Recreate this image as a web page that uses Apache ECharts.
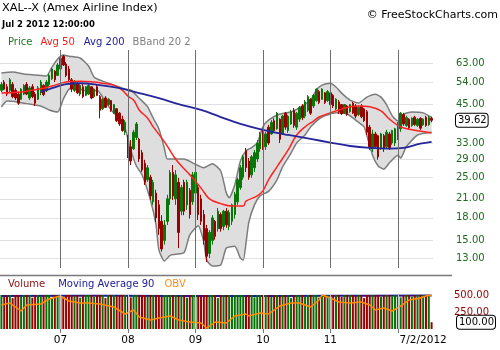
<!DOCTYPE html>
<html><head><meta charset="utf-8">
<script src="https://cdn.jsdelivr.net/npm/echarts@6/dist/echarts.min.js"></script>
<style>html,body{margin:0;padding:0;background:#fff}#c{width:500px;height:350px}</style>
</head><body><div id="c"></div>
<script>
// ---- data (semi-monthly bars, mid-Feb 2006 .. Jul 2 2012) ----
const openP = [50.5,54,52,50.5,53,50.5,49,47,49,53, 47.5,52,49,47,50,52.5,50.5,53,55.5,59,
 57,60,66.5,62.5,60,55,50.5,53.5,49,52, 48.5,49,52,48,52,48,43.5,47.5,45,46.5,
 42,43.5,42,40,36,35,32,31.5,34.5,34, 30.5,28,24.5,25,20.5,22,20,17.5,15,17.5,
 21,26,21,24,19,24,20,22.5,20.5,22, 23,21,18.5,16.5,13.5,15,17.5,16.5,18.5,16.8,
 19,16.8,17.5,18.5,20.5,23,25,31,28.5,25.5, 27,29,31.5,35.5,32,37.5,35.5,39.5,37,40,
 35.5,42,36.5,38.5,43,37.5,40,44.5,41,43, 47,44.5,46.5,50,47,49.5,46.5,49.5,48.5,43.5,
 46,45,42,44.5,42.5,45.5,44.5,41.5,44.5,43.5, 42.5,37.5,31.5,35.5,35,31.5,35,32,35.5,33,
 33,34.5,37,41.5,38,40,38,40.6,38,40.3, 38.2,40.6,38.3,40.3];
const closeP = [53,51,49,55,48,47.5,45.5,51,52.5,49, 51.5,48,45.5,51.5,54,48.8,54,57,60,55,
 62,65.5,62,57,55,51,54,49.5,52.5,48, 52,52.5,47.5,51,48.5,43,47,44,47,43,
 45,39.5,38.5,36.5,39,30,28.5,36,38.5,29, 26.5,24,27,21.5,24,18,16.5,14,17,21,
 26,21.5,25.5,16,23,19,24,18.5,25.5,26, 18.5,17.5,15,13.2,16,18,15.5,19,16.5,19,
 17,18.8,20,21.8,24.5,27,29.5,27,25,29.5, 30.5,33,35.5,31.5,35.5,33,39,36.5,42,34,
 41,37.5,41,42.5,38,42,44,40.5,46,48, 42,48.5,51,45.8,51,45.8,50,45,44.5,47,
 42.5,41.8,45,41.5,45,42,41,44,40.8,39.5, 36,32,35.5,32,29.5,35.5,31.5,36,31.8,36.5,
 37,38.5,42,38.5,40.5,37.3,40.3,38.3,40,37.2, 40,38,40.5,39.62];
const lowP = [49.8,50.6,48.2,49.8,47.4,46.7,44.9,46.7,48.6,48.6, 46.7,47.4,44.5,46.7,48.6,48.2,49.8,52.3,54.9,54.0,
 56.7,59.5,61.5,56.2,54.0,49.8,49.8,49.0,48.2,47.4, 48.2,48.6,47.0,47.4,48.2,40.3,43.1,43.8,44.5,42.4,
 41.7,39.1,37.9,36.1,35.2,29.2,27.6,31.2,33.8,28.3, 26.1,23.5,24.1,20.8,20.0,17.4,15.7,13.7,14.5,17.0,
 20.0,20.8,20.0,14.1,18.4,18.4,19.2,17.9,20.0,20.8, 17.7,17.0,14.5,12.6,13.0,14.5,15.1,16.1,16.1,16.3,
 16.6,16.3,17.0,17.9,20.0,22.6,24.5,26.1,24.5,24.9, 26.1,28.3,30.7,31.2,31.2,32.5,35.2,35.8,36.7,33.0,
 35.2,36.7,35.8,38.2,37.3,36.7,39.1,39.7,40.3,42.4, 41.4,43.8,46.0,45.2,46.7,45.2,46.0,44.5,43.8,43.1,
 41.7,41.4,41.7,41.1,42.1,41.7,40.3,41.1,40.3,39.1, 35.2,31.2,30.7,31.7,28.8,31.2,30.7,31.7,31.2,32.5,
 32.2,33.8,36.1,37.9,37.6,36.7,37.6,37.9,37.6,36.7, 37.9,37.6,37.9,39.0];
const highP = [54.0,54.9,53.1,55.8,54.0,51.4,49.8,51.4,53.1,54.0, 52.3,53.1,49.8,52.3,54.9,53.1,54.9,57.7,60.5,59.5,
 63.0,66.0,67.2,63.5,61.5,55.8,54.9,54.0,53.1,53.1, 52.3,53.1,52.3,51.4,52.7,48.6,47.4,48.2,47.4,46.7,
 45.2,43.8,42.4,41.1,39.7,35.2,33.8,36.7,39.1,34.4, 31.2,28.8,27.6,25.5,24.5,22.6,20.8,18.4,17.7,21.7,
 26.5,27.6,26.5,24.9,23.5,24.5,24.5,22.9,26.1,26.5, 23.5,21.7,19.2,17.0,16.3,18.4,17.7,19.5,18.8,19.2,
 19.5,19.2,20.2,22.2,24.9,27.6,29.9,31.7,29.2,29.9, 31.2,33.8,36.1,36.7,36.1,38.2,39.7,40.3,42.4,40.3,
 41.4,42.4,41.4,43.1,43.8,42.4,44.5,45.2,46.7,48.6, 47.4,49.0,51.4,50.6,51.4,49.8,50.6,49.8,49.0,47.4,
 46.7,45.2,45.2,44.9,45.2,46.0,45.2,44.5,45.2,43.8, 43.1,38.2,36.7,36.1,35.2,35.8,35.5,36.7,36.1,36.7,
 37.3,39.1,42.4,42.1,41.1,40.3,40.6,41.1,40.3,40.6, 40.3,41.1,41.1,40.8];
const volume = [500,470,500,500,455,500,500,480,500,500, 500,460,500,500,475,500,500,500,450,500,
 500,500,470,500,500,500,485,500,460,500, 500,500,500,475,500,500,500,455,500,500,
 500,480,500,500,500,500,465,500,500,500, 500,500,480,500,500,500,500,470,500,500,
 500,500,500,485,500,500,460,500,500,500, 500,475,500,500,500,500,500,455,500,500,
 500,500,470,500,500,500,500,480,500,500, 465,500,500,500,500,500,470,500,500,485,
 500,500,500,455,500,500,500,500,475,500, 500,500,500,460,500,500,500,480,500,500,
 500,470,500,500,500,500,485,500,500,455, 500,500,500,500,500,470,500,500,500,480,
 500,500,465,500,500,500,475,500,500,500, 500,500,480,100];
// indicator lines: [bar index, value]
const ma50 = [[0,49.4],[7,49.8],[11,50.6],[15,51.4],[18,52.3],[23,54.0],[28,54.4],[33,54.0],[36,53.5],[40,52.7],[43,50.6],[45,48.2],[47,46.7],[49,43.1],[52,40.3],[54,37.6],[58,33.3],[61,29.9],[63,28.1],[67,25.5],[71,22.9],[74,21.0],[78,20.2],[82,19.8],[86,19.8],[87,20.6],[91,21.5],[93,22.4],[95,24.5],[98,27.2],[102,31.2],[105,35.2],[108,37.6],[111,39.4],[113,40.7],[117,42.1],[120,43.1],[124,44.2],[127,44.5],[131,44.2],[135,42.8],[138,40.0],[142,37.6],[146,36.7],[153,35.8]];
const ma200 = [[14,49.8],[18,51.4],[23,53.1],[28,53.5],[35,52.7],[42,51.4],[49,49.4],[56,47.4],[63,45.2],[71,43.1],[78,40.7],[85,38.5],[93,36.7],[102,35.2],[110,34.1],[117,33.1],[124,32.2],[131,31.7],[138,31.5],[143,31.7],[149,32.8],[153,33.3]];
const bbUpper = [[0,58.1],[4,58.6],[8,57.7],[12,57.2],[16,56.7],[18,61.0],[20,65.1],[22,67.2],[24,66.6],[28,65.6],[31,61.5],[33,56.2],[36,54.4],[40,52.7],[44,51.0],[46,50.6],[49,47.4],[52,44.2],[54,40.3],[56,37.0],[58,31.5],[59,29.0],[62,29.0],[65,29.0],[68,28.1],[72,27.0],[75,27.9],[78,26.3],[80,22.0],[81,21.2],[83,23.5],[85,28.5],[87,31.0],[89,31.8],[91,33.0],[93,37.6],[95,39.7],[99,41.7],[103,42.4],[106,43.8],[110,46.7],[112,50.6],[114,52.7],[117,53.5],[119,51.9],[121,49.4],[124,46.7],[127,45.6],[130,47.8],[133,48.9],[135,47.8],[137,44.9],[139,41.1],[141,39.4],[143,41.7],[146,42.4],[150,42.1],[153,40.6]];
const bbLower = [[0,44.1],[2,46.3],[6,45.9],[10,45.2],[14,44.5],[17,43.1],[20,42.4],[22,47.0],[24,51.0],[26,51.9],[29,50.6],[32,49.8],[34,50.6],[36,47.8],[39,43.1],[41,41.1],[44,37.0],[46,31.2],[48,27.4],[50,25.5],[53,20.8],[55,17.0],[56,13.9],[58,12.7],[60,13.3],[62,13.4],[65,13.6],[67,15.7],[70,16.9],[72,14.8],[73,12.8],[75,12.2],[78,12.3],[80,14.1],[83,14.3],[85,13.0],[86,12.8],[87,14.7],[88,17.4],[90,20.0],[92,21.5],[95,22.3],[98,24.5],[100,27.2],[103,30.4],[105,33.0],[108,35.2],[110,37.6],[114,40.7],[119,42.1],[123,41.7],[126,39.7],[129,37.6],[130,35.0],[132,29.9],[134,27.4],[136,26.7],[138,28.1],[141,29.9],[142,29.2],[144,32.0],[148,35.2],[153,36.0]];
const obv = [[0,70.6],[3,76.5],[7,52.9],[9,70.6],[14,73.5],[17,88.2],[21,97.1],[24,82.4],[28,76.5],[31,76.5],[35,73.5],[40,64.7],[44,44.1],[47,55.9],[49,35.3],[53,26.5],[56,32.4],[60,38.2],[63,26.5],[67,20.6],[71,17.6],[73,2.9],[76,20.6],[80,17.6],[83,38.2],[87,44.1],[88,38.2],[92,47.1],[95,44.1],[99,67.6],[103,76.5],[106,76.5],[110,64.7],[113,85.3],[114,100],[117,91.2],[120,79.4],[124,76.5],[128,79.4],[131,70.6],[133,55.9],[136,61.8],[139,52.9],[142,67.6],[145,85.3],[149,91.2],[152,100],[153,97]];
const ma90 = [[0,486],[40,490],[80,484],[120,488],[153,492]];
const priceTicks = [63,54,45,33,29,25,21,18,15,13];
const lastPrice = 39.62;
const volTicks = [500,250];
const lastVol = 100;
const yearIdx = [21,45,69,93,117,141];
const labelIdx = [21,45,69,93,117,150];
const labelText = ['07','08','09','10','11','7/2/2012'];

// categories: semi-monthly periods
const cats = [];
{ let y = 2006, m = 2, h = 1;
  for (let i = 0; i < openP.length; i++) {
    cats.push(y + '-' + String(m).padStart(2,'0') + (h ? 'b' : 'a'));
    if (h) { h = 0; m++; if (m > 12) { m = 1; y++; } } else { h = 1; }
  } }

const FONT = '"DejaVu Sans", Verdana, sans-serif';
const GREEN = '#0a760a', RED = '#990000';
const candles = openP.map((o, i) => [o, closeP[i], lowP[i], highP[i]]);
const volData = volume.map((v, i) => ({ value: v, itemStyle: { color: closeP[i] >= openP[i] ? '#067006' : '#990000' } }));
const rs = (color, pr) => ({ color: color, fontFamily: FONT, fontSize: 10, fontWeight: 'normal', padding: [0, pr, 0, 0] });
const boxStyle = { color: '#000', fontFamily: FONT, fontSize: 10, borderColor: '#000', borderWidth: 1,
  borderRadius: 3, padding: [2, 1, 1, 2], backgroundColor: '#fff' };

const chart = echarts.init(document.getElementById('c'));
chart.setOption({
  animation: false,
  backgroundColor: '#fff',
  title: [
    { text: 'XAL--X (Amex Airline Index)', left: 2, top: 3, padding: 0,
      textStyle: { fontFamily: FONT, fontSize: 11.3, fontWeight: 'normal', color: '#000' } },
    { text: 'Jul 2 2012 12:00:00', left: 2, top: 20, padding: 0,
      textStyle: { fontFamily: FONT, fontSize: 8.5, fontWeight: 'bold', color: '#000' } },
    { text: '{g|Price}{r|Avg 50}{b|Avg 200}{k|BBand 20 2}', left: 8, top: 37, padding: 0,
      textStyle: { fontFamily: FONT, fontSize: 10, fontWeight: 'normal', rich: {
        g: rs('#1f7a1f', 8), r: rs('#ff1a1a', 9), b: rs('#1a1a99', 8), k: rs('#808080', 0) } } },
    { text: '\u00a9 FreeStockCharts.com', right: 2, top: 10, padding: 0,
      textStyle: { fontFamily: FONT, fontSize: 11, fontWeight: 'normal', color: '#000' } },
    { text: '{r|Volume}{b|Moving Average 90}{o|OBV}', left: 8, top: 279, padding: 0,
      textStyle: { fontFamily: FONT, fontSize: 10, fontWeight: 'normal', rich: {
        r: rs('#8b1010', 13), b: rs('#1a1a99', 10), o: rs('#ff8c1a', 0) } } }
  ],
  graphic: [
    { type: 'line', shape: { x1: 0, y1: 275.5, x2: 452, y2: 275.5 }, style: { stroke: '#7a7a7a', lineWidth: 1.5 }, silent: true }
  ],
  grid: [
    { left: 0, top: 50, width: 433, height: 218 },
    { left: 0, top: 295, width: 433, height: 34 }
  ],
  xAxis: [
    { type: 'category', gridIndex: 0, data: cats, axisLine: { show: false }, axisTick: { show: false },
      axisLabel: { show: false }, splitLine: { show: false } },
    { type: 'category', gridIndex: 1, data: cats, axisLine: { show: false },
      axisTick: { show: true, alignWithLabel: true, length: 4, interval: (i) => yearIdx.indexOf(i) >= 0,
        lineStyle: { color: '#777' } },
      axisLabel: { show: true, interval: (i) => labelIdx.indexOf(i) >= 0, margin: 6,
        formatter: (v, i) => { const k = labelIdx.indexOf(i); return k >= 0 ? labelText[k] : ''; },
        fontFamily: FONT, fontSize: 10.5, color: '#000' },
      splitLine: { show: false } }
  ],
  yAxis: [
    { type: 'log', gridIndex: 0, position: 'right', min: 12, max: 70,
      axisLine: { show: false }, axisTick: { show: false, customValues: priceTicks },
      axisLabel: { customValues: priceTicks.concat([lastPrice]), margin: 23, hideOverlap: false,
        fontFamily: FONT, fontSize: 10, color: '#1e6a1e',
        formatter: (v) => Math.abs(v - lastPrice) < 0.01 ? '{box|' + lastPrice.toFixed(2) + '}' : Number(v).toFixed(2),
        rich: { box: boxStyle } },
      splitLine: { show: true, lineStyle: { color: '#e2e2e2', width: 1 } } },
    { type: 'value', gridIndex: 1, position: 'right', min: 0, max: 500,
      axisLine: { show: false }, axisTick: { show: false, customValues: volTicks },
      axisLabel: { customValues: volTicks, margin: 21, hideOverlap: false,
        fontFamily: FONT, fontSize: 10, color: '#990000',
        formatter: (v) => Number(v).toFixed(2) },
      splitLine: { show: false } },
    { type: 'value', gridIndex: 1, min: 0, max: 100, show: false, splitLine: { show: false } }
  ],
  series: [
    { type: 'custom', xAxisIndex: 0, yAxisIndex: 0, silent: true, z: 1,
      data: [[0, 40]],
      renderItem: (params, api) => {
        const pts = bbUpper.map(d => api.coord(d)).concat(bbLower.slice().reverse().map(d => api.coord(d)));
        return { type: 'polygon', shape: { points: pts, smooth: 0 }, style: { fill: '#dedede', stroke: 'none' } };
      } },
    { type: 'line', xAxisIndex: 0, yAxisIndex: 0, data: bbUpper, symbol: 'none', smooth: 0.2, z: 2,
      lineStyle: { color: '#7c7c7c', width: 1.5 }, silent: true,
      markLine: { silent: true, symbol: 'none', label: { show: false },
        lineStyle: { color: '#6e6e6e', width: 1, type: 'solid' },
        data: yearIdx.map(i => ({ xAxis: i })) } },
    { type: 'line', xAxisIndex: 0, yAxisIndex: 0, data: bbLower, symbol: 'none', smooth: 0.2, z: 2,
      lineStyle: { color: '#7c7c7c', width: 1.5 }, silent: true },
    { type: 'candlestick', xAxisIndex: 0, yAxisIndex: 0, data: candles, barWidth: 2, z: 3,
      itemStyle: { color: GREEN, color0: RED, borderColor: GREEN, borderColor0: RED, borderWidth: 1 } },
    { type: 'line', xAxisIndex: 0, yAxisIndex: 0, data: ma50, symbol: 'none', smooth: 0.4, z: 4,
      lineStyle: { color: '#ff2222', width: 1.5 } },
    { type: 'line', xAxisIndex: 0, yAxisIndex: 0, data: ma200, symbol: 'none', smooth: 0.4, z: 4,
      lineStyle: { color: '#25259c', width: 1.8 } },
    { type: 'line', xAxisIndex: 1, yAxisIndex: 1, data: ma90, symbol: 'none', smooth: 0.4, z: 1,
      lineStyle: { color: '#1a1a99', width: 2 } },
    { type: 'bar', xAxisIndex: 1, yAxisIndex: 1, data: volData, barWidth: 2, z: 2 },
    { type: 'line', xAxisIndex: 1, yAxisIndex: 2, data: obv, symbol: 'none', z: 4,
      lineStyle: { color: '#ff8c00', width: 1.5 },
      markLine: { silent: true, symbol: 'none', label: { show: false },
        lineStyle: { color: '#c8c8c8', width: 1, type: 'solid' },
        data: yearIdx.map(i => ({ xAxis: i })) } },
    { type: 'line', xAxisIndex: 1, yAxisIndex: 1, data: [], symbol: 'none', z: 6,
      markLine: { silent: true, symbol: 'none',
        lineStyle: { color: 'rgba(0,0,0,0)', width: 1 },
        label: { show: true, position: 'end', distance: 24, formatter: lastVol.toFixed(2),
          color: '#000', fontFamily: FONT, fontSize: 10, borderColor: '#000', borderWidth: 1,
          borderRadius: 3, padding: [2, 1, 1, 2], backgroundColor: '#fff' },
        data: [{ yAxis: lastVol }] } }
  ]
});
</script></body></html>
